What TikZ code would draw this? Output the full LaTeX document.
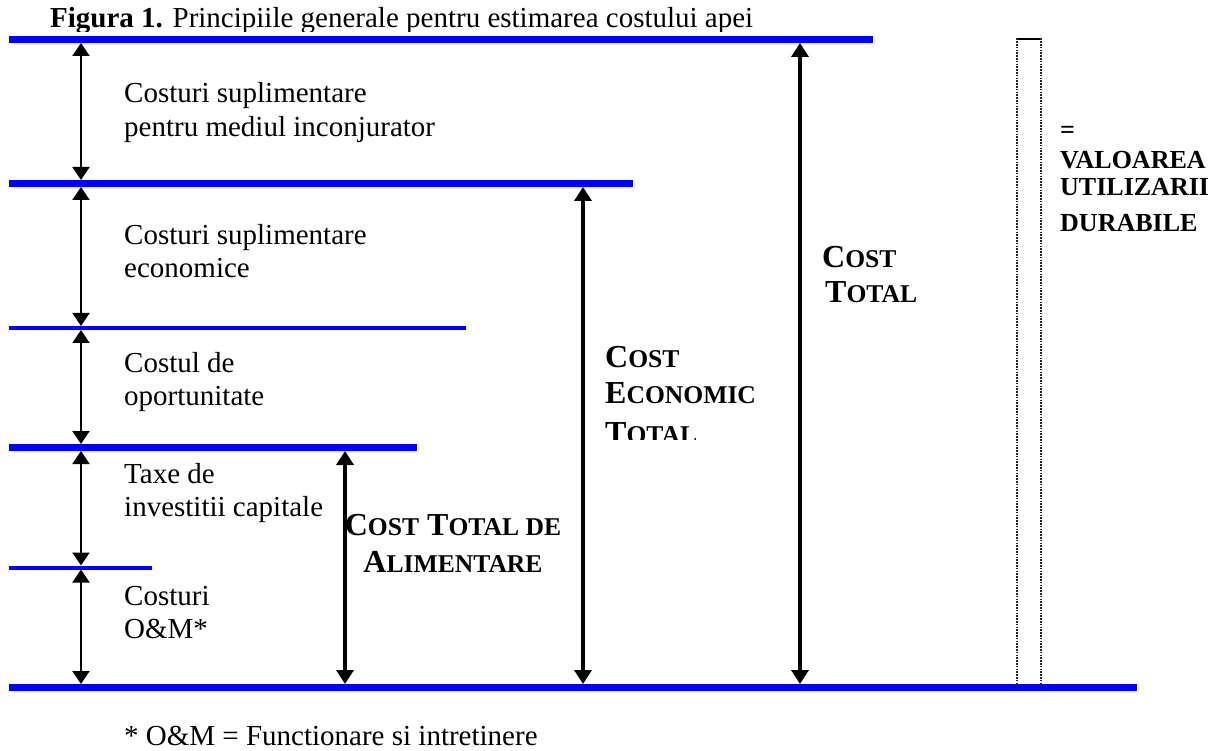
\documentclass[tikz,border=0pt]{standalone}
\usepackage{fontspec}
\setmainfont{Liberation Serif}
\usetikzlibrary{arrows.meta}
\definecolor{levelblue}{RGB}{0,0,255}
% reduced capitals for the bold headings
\newcommand\smc[1]{{\fontsize{25.6}{30}\selectfont #1}}

\begin{document}
\begin{tikzpicture}[x=1pt,y=-1pt,
  level/.style={draw=levelblue,line width=7pt},
  thinlevel/.style={draw=levelblue,line width=4pt},
  dim/.style={line width=2pt,
    {Triangle[width=17pt,length=13pt]}-{Triangle[width=17pt,length=13pt]}},
  bigdim/.style={line width=4pt,
    {Triangle[width=17pt,length=14pt]}-{Triangle[width=17pt,length=14pt]}},
  txt/.style={font=\fontsize{29}{34}\selectfont,inner sep=0pt,anchor=base west},
  lbl/.style={font=\fontsize{32}{36}\selectfont\bfseries,inner sep=0pt,anchor=base west},
  lblc/.style={font=\fontsize{32}{36}\selectfont\bfseries,inner sep=0pt,anchor=base},
  sidelbl/.style={font=\fontsize{26}{30}\selectfont\bfseries,inner sep=0pt,anchor=base west},
  dotbox/.style={line width=1.2pt,draw=black!85,dash pattern=on 1.6pt off 1.2pt},
]
\useasboundingbox (0,0) rectangle (1229,751);

% caption (its text frame cuts off the descenders)
\begin{scope}
  \clip (0,0) rectangle (900,32);
  \node[txt] (title) at (50,27.5) {\textbf{Figura 1.} Principiile generale pentru estimarea costului apei};
\end{scope}

% cost levels
\coordinate (lv0w) at (9,39.5);   \coordinate (lv0e) at (873,39.5);
\coordinate (lv1w) at (9,183.5);  \coordinate (lv1e) at (633,183.5);
\coordinate (lv2w) at (9,328);    \coordinate (lv2e) at (466,328);
\coordinate (lv3w) at (9,447.5);  \coordinate (lv3e) at (417,447.5);
\coordinate (lv4w) at (9,567.5);  \coordinate (lv4e) at (152,567.5);
\coordinate (lv5w) at (9,687.5);  \coordinate (lv5e) at (1137,687.5);

\draw[level]     (lv0w) -- (lv0e);
\draw[level]     (lv1w) -- (lv1e);
\draw[thinlevel] (lv2w) -- (lv2e);
\draw[level]     (lv3w) -- (lv3e);
\draw[thinlevel] (lv4w) -- (lv4e);
\draw[level]     (lv5w) -- (lv5e);

% vertical axes of the dimension arrows
\coordinate (axA) at (81,0);
\coordinate (axB) at (345,0);
\coordinate (axC) at (583,0);
\coordinate (axD) at (800,0);

% component arrows
\draw[dim,shorten <=3.5pt,shorten >=3.5pt] (axA |- lv0w) -- (axA |- lv1w);
\draw[dim,shorten <=3.5pt,shorten >=2pt]   (axA |- lv1w) -- (axA |- lv2w);
\draw[dim,shorten <=2pt,shorten >=3.5pt]   (axA |- lv2w) -- (axA |- lv3w);
\draw[dim,shorten <=3.5pt,shorten >=2pt]   (axA |- lv3w) -- (axA |- lv4w);
\draw[dim,shorten <=2pt,shorten >=3.5pt]   (axA |- lv4w) -- (axA |- lv5w);

% total arrows
\draw[bigdim,shorten <=3.5pt,shorten >=3.5pt] (axB |- lv3w) -- (axB |- lv5w);
\draw[bigdim,shorten <=3.5pt,shorten >=3.5pt] (axC |- lv1w) -- (axC |- lv5w);
\draw[bigdim,shorten <=3.5pt,shorten >=3.5pt] (axD |- lv0w) -- (axD |- lv5w);

% component labels
\node[txt] (env1) at (124,103) {Costuri suplimentare};
\node[txt] (env2) at (124,137) {pentru mediul inconjurator};
\node[txt] (eco1) at (124,245) {Costuri suplimentare};
\node[txt] (eco2) at (124,278) {economice};
\node[txt] (opp1) at (124,372) {Costul de};
\node[txt] (opp2) at (124,405) {oportunitate};
\node[txt] (cap1) at (124,483) {Taxe de};
\node[txt] (cap2) at (124,516) {investitii capitale};
\node[txt] (om1)  at (124,605) {Costuri};
\node[txt] (om2)  at (124,638) {O\&M*};

% total labels
\node[lblc] (supply1) at (453,535) {C\smc{OST} T\smc{OTAL DE}};
\node[lblc] (supply2) at (453,572) {A\smc{LIMENTARE}};

% economic total: its text frame cuts the last line
\begin{scope}
  \clip (590,300) rectangle (780,439);
  \node[lbl] (econ1) at (605,367) {C\smc{OST}};
  \node[lbl] (econ2) at (605,403) {E\smc{CONOMIC}};
  \node[lbl] (econ3) at (605,443) {T\smc{OTAL}};
\end{scope}

\node[lbl] (tot1) at (822,268) {C\smc{OST}};
\node[lbl] (tot2) at (825,303) {T\smc{OTAL}};

% sustainable-use column
\coordinate (boxnw) at (1017,39.5);
\coordinate (boxne) at (1041,39.5);
\draw[line width=2pt] ([xshift=-1pt]boxnw) -- ([xshift=1pt]boxne);
\draw[dotbox] ([yshift=1pt]boxnw) -- (boxnw |- lv5w);
\draw[dotbox] ([yshift=1pt]boxne) -- (boxne |- lv5w);

\node[sidelbl] (eq)   at (1060,139) {=};
\node[sidelbl] (val1) at (1060,169) {VALOAREA};
\node[sidelbl] (val2) at (1060,196) {UTILIZARII};
\node[sidelbl] (val3) at (1060,232) {DURABILE};

% footnote
\node[txt] (note) at (124,745) {* O\&M = Functionare si intretinere};
\end{tikzpicture}
\end{document}
